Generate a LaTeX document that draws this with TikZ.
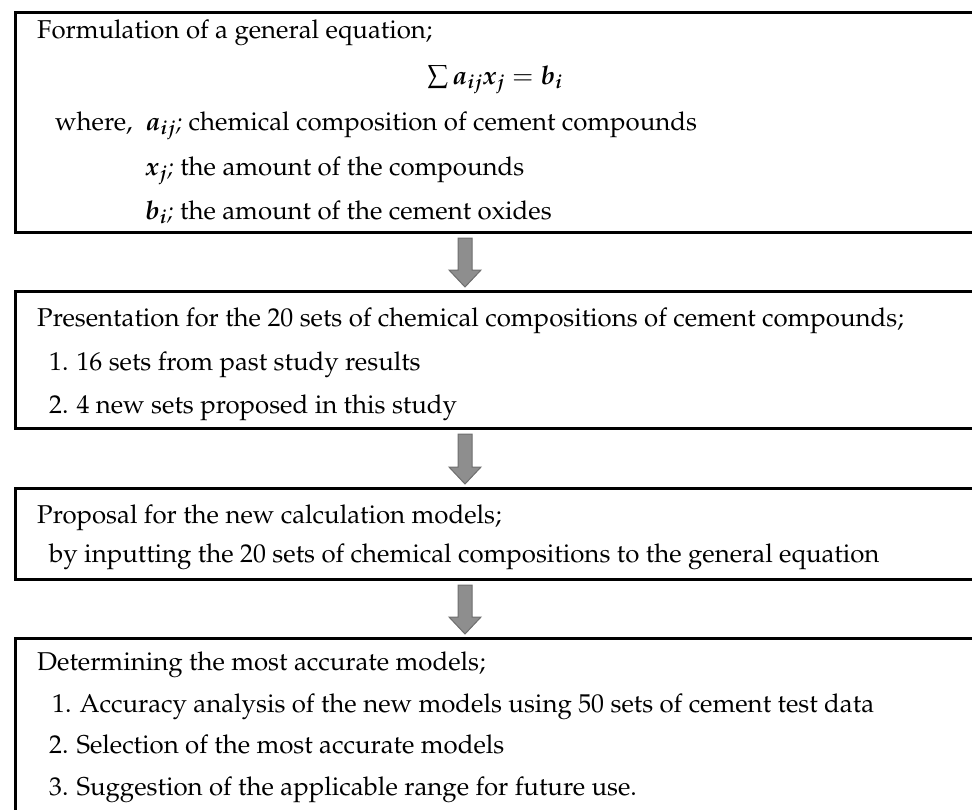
\documentclass[tikz,border=0pt]{standalone}
\usepackage[T1]{fontenc}
\usepackage{mathpazo}
\usepackage{amsmath}
\usepackage{xcolor}
\usepackage{tikz}
\usetikzlibrary{calc,positioning}
\definecolor{ArrowGrey}{RGB}{142,142,142}
\definecolor{ArrowEdge}{RGB}{110,110,110}

\begin{document}
\begin{tikzpicture}[x=1pt, y=-1pt,
    stepbox/.style={draw=black, line width=3pt, outer sep=0pt, inner sep=0pt, anchor=north west, minimum width=960pt},
    steptext/.style={anchor=base west, inner sep=0pt, font=\fontsize{25.8}{31}\selectfont},
    flowarrow/.style={fill=ArrowGrey, draw=ArrowEdge, line width=1pt, line join=miter}]
    \useasboundingbox (0,0) rectangle (972,809);
    \coordinate (ax) at (465,0);

    % Step boxes
    \node[stepbox, minimum height=220pt] (b1) at (15,12) {};
    \node[stepbox, minimum height=137pt] (b2) at (15,291) {};
    \node[stepbox, minimum height=91pt] (b3) at (15,488) {};
    \node[stepbox, minimum height=220pt] (b4) at (15,638) {};

    % Box 1: general equation
    \node[steptext] (f1) at (37,38) {Formulation of a general equation;};
    \node[steptext, anchor=base] (eq) at (b1.center |- 0,84) {$\sum\boldsymbol{a_{ij}x_j}=\boldsymbol{b_i}$};
    \node[steptext] (w0) at (55,130) {where,};
    \node[steptext] (w1) at (145,130) {$\boldsymbol{a_{ij}}$\textit{;} chemical composition of cement compounds};
    \node[steptext] (w2) at (145,175) {$\boldsymbol{x_j}$\textit{;} the amount of the compounds};
    \node[steptext] (w3) at (145,219) {$\boldsymbol{b_i}$\textit{;} the amount of the cement oxides};

    % Box 2: sets of compositions
    \node[steptext] (p1) at (37,326) {Presentation for the 20 sets of chemical compositions of cement compounds;};
    \node[steptext] (p2) at (49,370) {1. 16 sets from past study results};
    \node[steptext] (p3) at (49,413) {2. 4 new sets proposed in this study};

    % Box 3: calculation models
    \node[steptext] (m1) at (37,523) {Proposal for the new calculation models;};
    \node[steptext] (m2) at (49,562) {by inputting the 20 sets of chemical compositions to the general equation};

    % Box 4: most accurate models
    \node[steptext] (d1) at (37,670) {Determining the most accurate models;};
    \node[steptext] (d2) at (52,712) {1. Accuracy analysis of the new models using 50 sets of cement test data};
    \node[steptext] (d3) at (49,753) {2. Selection of the most accurate models};
    \node[steptext] (d4) at (49,795) {3. Suggestion of the applicable range for future use.};

    % Block arrows between the steps
    \draw[flowarrow] ($(b1.south -| ax)+(-7,6)$) -- ++(14,0) -- ($(b2.north -| ax)+(7,-21)$) -- ++(9,0) -- ($(b2.north -| ax)+(0,-4)$) -- ++(-16,-17) -- ++(9,0) -- cycle;
    \draw[flowarrow] ($(b2.south -| ax)+(-7,6)$) -- ++(14,0) -- ($(b3.north -| ax)+(7,-21)$) -- ++(9,0) -- ($(b3.north -| ax)+(0,-4)$) -- ++(-16,-17) -- ++(9,0) -- cycle;
    \draw[flowarrow] ($(b3.south -| ax)+(-7,6)$) -- ++(14,0) -- ($(b4.north -| ax)+(7,-21)$) -- ++(9,0) -- ($(b4.north -| ax)+(0,-4)$) -- ++(-16,-17) -- ++(9,0) -- cycle;
\end{tikzpicture}
\end{document}
